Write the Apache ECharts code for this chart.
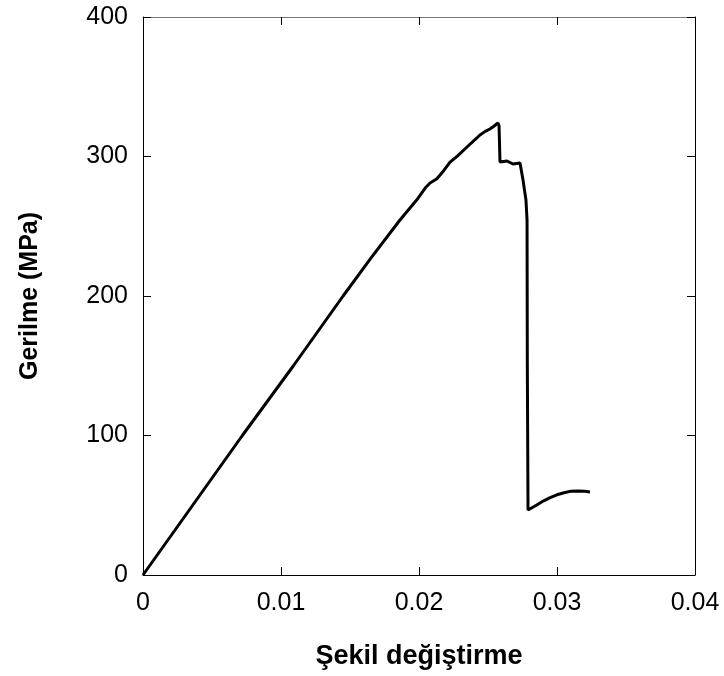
<!DOCTYPE html>
<html>
<head>
<meta charset="utf-8">
<script src="https://cdn.jsdelivr.net/npm/echarts@6/dist/echarts.min.js"></script>
<style>html,body{margin:0;padding:0;background:#fff}#c{width:724px;height:676px}</style>
</head>
<body>
<div id="c"></div>
<script>
const strain = [0, 0.0036, 0.0072, 0.0109, 0.0145, 0.0165, 0.01862, 0.01983, 0.0205, 0.0208, 0.0213, 0.0218, 0.02225, 0.0228, 0.02348, 0.0240, 0.02442, 0.0248, 0.02514, 0.0254, 0.02572, 0.02580, 0.02587, 0.02638, 0.02681, 0.02732, 0.02754, 0.02775, 0.02783, 0.02785, 0.02790, 0.0285, 0.0290, 0.0295, 0.0300, 0.0305, 0.0310, 0.0315, 0.0320, 0.03239];
const stress = [0, 50, 100, 150, 200, 227, 254.5, 268.8, 278, 281, 284, 290, 296, 300.5, 306.8, 311.5, 315.4, 318, 319.7, 321.5, 324, 322, 296, 296.8, 294.6, 295.3, 283, 268.8, 254.5, 150, 46.6, 50, 53, 55.5, 57.5, 59, 60, 60.3, 60, 59.5];
const xTicks = [0, 0.01, 0.02, 0.03, 0.04];
const yTicks = [0, 100, 200, 300, 400];

const data = strain.map((x, i) => [x, stress[i]]);
const font = 'Liberation Sans, Arial, sans-serif';
const chart = echarts.init(document.getElementById('c'));
chart.setOption({
  animation: false,
  grid: {left: 143, right: 29, top: 17, bottom: 101},
  xAxis: [{
    type: 'value', min: xTicks[0], max: xTicks[xTicks.length - 1], interval: 0.01,
    name: 'Şekil değiştirme', nameLocation: 'middle', nameGap: 68,
    nameTextStyle: {fontFamily: font, fontSize: 27, fontWeight: 'bold', color: '#000'},
    axisLine: {onZero: false, lineStyle: {color: '#000', width: 1}},
    axisTick: {inside: true, length: 8, lineStyle: {color: '#000'}},
    axisLabel: {fontFamily: font, fontSize: 25, color: '#000', margin: 16},
    splitLine: {show: false}
  }, {
    type: 'value', position: 'top', min: 0, max: 0.04, interval: 0.01,
    axisLine: {show: true, onZero: false, lineStyle: {color: '#777', width: 1}},
    axisTick: {show: true, inside: true, length: 8, lineStyle: {color: '#000'}},
    axisLabel: {show: false}, splitLine: {show: false}
  }],
  yAxis: [{
    type: 'value', min: yTicks[0], max: yTicks[yTicks.length - 1], interval: 100,
    name: 'Gerilme (MPa)', nameLocation: 'middle', nameGap: 100, nameRotate: 90,
    nameTextStyle: {fontFamily: font, fontSize: 25, fontWeight: 'bold', color: '#000'},
    axisLine: {show: true, onZero: false, lineStyle: {color: '#000', width: 1}},
    axisTick: {show: true, inside: true, length: 8, lineStyle: {color: '#000'}},
    axisLabel: {fontFamily: font, fontSize: 25, color: '#000', margin: 15},
    splitLine: {show: false}
  }, {
    type: 'value', position: 'right', min: 0, max: 400, interval: 100,
    axisLine: {show: true, onZero: false, lineStyle: {color: '#000', width: 1}},
    axisTick: {show: true, inside: true, length: 8, lineStyle: {color: '#000'}},
    axisLabel: {show: false}, splitLine: {show: false}
  }],
  series: [{
    type: 'line', data: data, showSymbol: false, smooth: false,
    lineStyle: {color: '#000', width: 3}
  }]
});
</script>
</body>
</html>
